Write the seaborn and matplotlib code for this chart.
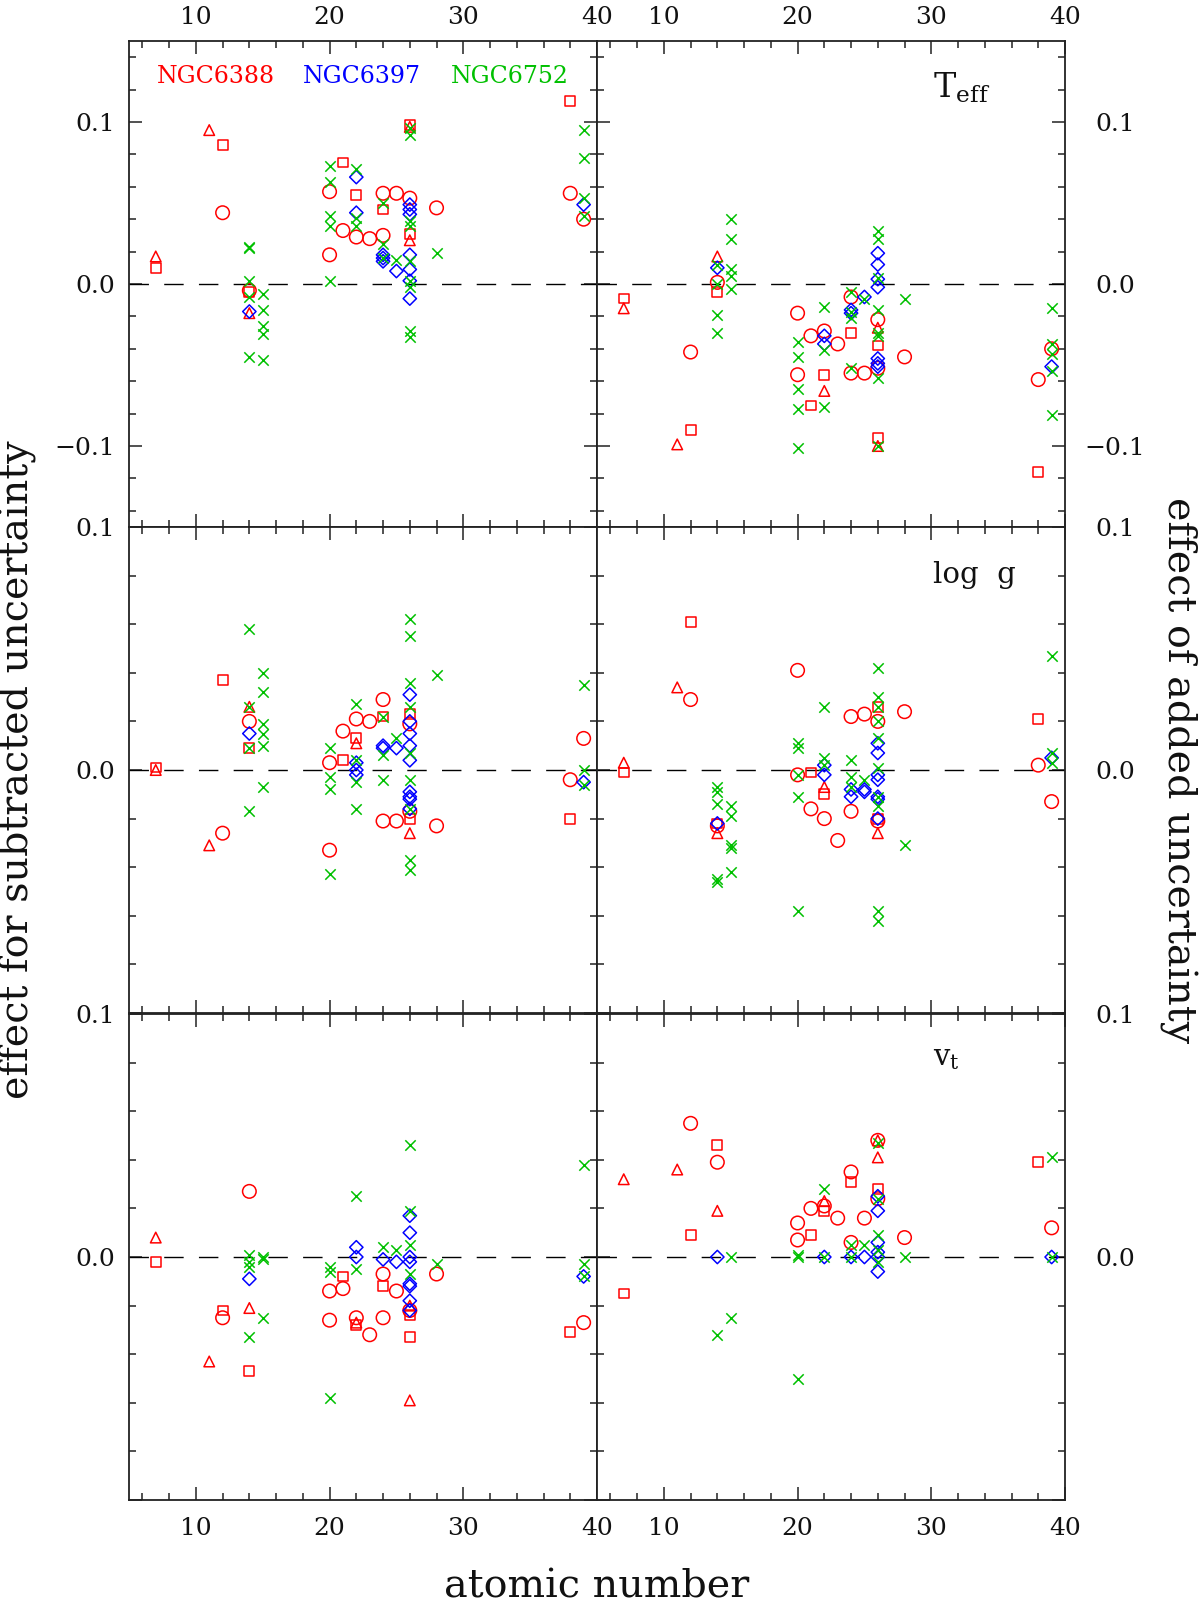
import matplotlib
matplotlib.use("Agg")
import matplotlib.pyplot as plt
from matplotlib.ticker import FixedLocator, MultipleLocator, FuncFormatter
import seaborn as sns
import pandas as pd

# ---------------- data: (atomic number, effect) ----------------
# T_eff, subtracted uncertainty (top-left)
TEFF_SUB_RED_TRI = [(7, 0.017), (11, 0.095), (14, -0.018), (26, 0.027), (26, 0.097)]
TEFF_SUB_RED_SQ = [(7, 0.010), (12, 0.086), (14, -0.005), (21, 0.075), (22, 0.055), (24, 0.046),
                   (26, 0.031), (26, 0.098), (38, 0.113)]
TEFF_SUB_RED_CIRC = [(12, 0.044), (14, -0.004), (20, 0.057), (20, 0.018), (21, 0.033), (22, 0.029),
                     (23, 0.028), (24, 0.030), (24, 0.056), (25, 0.056), (26, 0.053), (28, 0.047),
                     (38, 0.056), (39, 0.040)]
TEFF_SUB_BLUE = [(14, -0.017), (22, 0.066), (22, 0.044), (24, 0.014), (24, 0.016), (24, 0.018),
                 (25, 0.008), (26, 0.043), (26, 0.046), (26, 0.049), (26, 0.018), (26, 0.009),
                 (26, 0.002), (26, -0.009), (39, 0.049)]
TEFF_SUB_GREEN = [(14, 0.022), (14, 0.023), (14, 0.002), (14, -0.008), (14, -0.045), (15, -0.006),
                  (15, -0.016), (15, -0.026), (15, -0.031), (15, -0.047), (20, 0.073), (20, 0.063),
                  (20, 0.042), (20, 0.036), (20, 0.002), (22, 0.071), (22, 0.041), (22, 0.036),
                  (24, 0.050), (24, 0.025), (24, 0.016), (25, 0.015), (26, 0.096), (26, 0.092),
                  (26, 0.039), (26, 0.036), (26, 0.014), (26, 0.002), (26, -0.002), (26, -0.029),
                  (26, -0.033), (28, 0.019), (39, 0.095), (39, 0.078), (39, 0.053), (39, 0.042)]

# T_eff, added uncertainty (top-right)
TEFF_ADD_RED_TRI = [(7, -0.015), (11, -0.099), (14, 0.017), (22, -0.066), (26, -0.027), (26, -0.100)]
TEFF_ADD_RED_SQ = [(7, -0.009), (12, -0.090), (14, -0.005), (21, -0.075), (22, -0.056), (24, -0.030),
                   (26, -0.038), (26, -0.095), (38, -0.116)]
TEFF_ADD_RED_CIRC = [(12, -0.042), (14, 0.001), (20, -0.018), (20, -0.056), (21, -0.032), (22, -0.029),
                     (23, -0.037), (24, -0.008), (24, -0.055), (25, -0.055), (26, -0.022), (26, -0.052),
                     (28, -0.045), (38, -0.059), (39, -0.040)]
TEFF_ADD_BLUE = [(14, 0.010), (22, -0.032), (22, -0.037), (24, -0.016), (24, -0.018), (25, -0.008),
                 (26, 0.019), (26, 0.012), (26, 0.003), (26, -0.002), (26, -0.046), (26, -0.049),
                 (26, -0.051), (39, -0.051)]
TEFF_ADD_GREEN = [(14, 0.012), (14, 0.000), (14, -0.019), (14, -0.030), (15, 0.040), (15, 0.028),
                  (15, 0.009), (15, 0.005), (15, -0.003), (20, -0.036), (20, -0.045), (20, -0.065),
                  (20, -0.077), (20, -0.101), (22, -0.014), (22, -0.041), (22, -0.076), (24, -0.005),
                  (24, -0.017), (24, -0.021), (24, -0.052), (25, -0.009), (26, 0.033), (26, 0.028),
                  (26, 0.004), (26, -0.016), (26, -0.030), (26, -0.032), (26, -0.058), (26, -0.100),
                  (28, -0.009), (39, -0.015), (39, -0.037), (39, -0.043), (39, -0.054), (39, -0.081)]

# log g, subtracted uncertainty (middle-left)
LOGG_SUB_RED_TRI = [(7, 0.000), (11, -0.031), (14, 0.026), (22, 0.011), (26, -0.026)]
LOGG_SUB_RED_SQ = [(7, 0.001), (12, 0.037), (14, 0.009), (21, 0.004), (22, 0.013), (24, 0.022),
                   (26, 0.023), (26, -0.020), (38, -0.020)]
LOGG_SUB_RED_CIRC = [(12, -0.026), (14, 0.020), (20, 0.003), (20, -0.033), (21, 0.016), (22, 0.021),
                     (23, 0.020), (24, 0.029), (24, -0.021), (25, -0.021), (26, 0.019), (26, -0.017),
                     (28, -0.023), (38, -0.004), (39, 0.013)]
LOGG_SUB_BLUE = [(14, 0.015), (22, 0.003), (22, 0.000), (22, -0.002), (24, 0.010), (24, 0.009),
                 (25, 0.009), (26, 0.031), (26, 0.020), (26, 0.015), (26, 0.010), (26, 0.004),
                 (26, -0.009), (26, -0.011), (26, -0.012), (26, -0.016), (39, -0.005)]
LOGG_SUB_GREEN = [(14, 0.058), (14, 0.026), (14, 0.009), (14, -0.017), (15, 0.040), (15, 0.032),
                  (15, 0.019), (15, 0.015), (15, 0.010), (15, -0.007), (20, 0.009), (20, -0.003),
                  (20, -0.008), (20, -0.043), (22, 0.027), (22, 0.004), (22, -0.005), (22, -0.016),
                  (24, 0.022), (24, 0.006), (24, -0.004), (25, 0.013), (26, 0.062), (26, 0.055),
                  (26, 0.036), (26, 0.026), (26, 0.007), (26, -0.004), (26, -0.016), (26, -0.037),
                  (26, -0.041), (28, 0.039), (39, 0.035), (39, 0.000), (39, -0.006)]

# log g, added uncertainty (middle-right)
LOGG_ADD_RED_TRI = [(7, 0.003), (11, 0.034), (14, -0.026), (22, -0.007), (26, -0.026)]
LOGG_ADD_RED_SQ = [(7, -0.001), (12, 0.061), (14, -0.022), (21, -0.001), (22, -0.010), (26, 0.026),
                   (26, -0.020), (38, 0.021)]
LOGG_ADD_RED_CIRC = [(12, 0.029), (14, -0.023), (20, 0.041), (20, -0.002), (21, -0.016), (22, -0.020),
                     (23, -0.029), (24, 0.022), (24, -0.017), (25, 0.023), (26, 0.020), (26, -0.021),
                     (28, 0.024), (38, 0.002), (39, -0.013)]
LOGG_ADD_BLUE = [(14, -0.022), (22, 0.002), (22, -0.002), (24, -0.008), (24, -0.011), (25, -0.008),
                 (25, -0.009), (26, 0.011), (26, 0.007), (26, -0.002), (26, -0.004), (26, -0.011),
                 (26, -0.012), (26, -0.020), (39, 0.005)]
LOGG_ADD_GREEN = [(14, -0.007), (14, -0.009), (14, -0.014), (14, -0.045), (14, -0.046), (15, -0.015),
                  (15, -0.019), (15, -0.031), (15, -0.032), (15, -0.042), (20, 0.011), (20, 0.009),
                  (20, -0.002), (20, -0.011), (20, -0.058), (22, 0.026), (22, 0.005), (22, 0.002),
                  (24, 0.004), (24, -0.003), (24, -0.007), (25, -0.004), (26, 0.042), (26, 0.030),
                  (26, 0.026), (26, 0.020), (26, 0.013), (26, 0.001), (26, -0.011), (26, -0.015),
                  (26, -0.058), (26, -0.062), (28, -0.031), (39, 0.047), (39, 0.007), (39, 0.003)]

# v_t, subtracted uncertainty (bottom-left)
VT_SUB_RED_TRI = [(7, 0.008), (11, -0.043), (14, -0.021), (22, -0.027), (26, -0.020), (26, -0.059)]
VT_SUB_RED_SQ = [(7, -0.002), (12, -0.022), (14, -0.047), (21, -0.008), (22, -0.028), (24, -0.012),
                 (26, -0.024), (26, -0.033), (38, -0.031)]
VT_SUB_RED_CIRC = [(12, -0.025), (14, 0.027), (20, -0.014), (20, -0.026), (21, -0.013), (22, -0.025),
                   (23, -0.032), (24, -0.007), (24, -0.025), (25, -0.014), (26, -0.022), (28, -0.007),
                   (39, -0.027)]
VT_SUB_BLUE = [(14, -0.009), (22, 0.004), (22, 0.000), (24, -0.001), (25, -0.002), (26, 0.017),
               (26, 0.010), (26, 0.000), (26, -0.002), (26, -0.011), (26, -0.012), (26, -0.018),
               (26, -0.022), (39, -0.008)]
VT_SUB_GREEN = [(14, 0.001), (14, -0.002), (14, -0.004), (14, -0.033), (15, 0.000), (15, -0.001),
                (15, -0.025), (20, -0.004), (20, -0.006), (20, -0.058), (22, 0.025), (22, -0.005),
                (24, 0.004), (25, 0.003), (26, 0.046), (26, 0.019), (26, 0.005), (26, -0.007),
                (28, -0.003), (39, 0.038), (39, -0.003), (39, -0.008)]

# v_t, added uncertainty (bottom-right)
VT_ADD_RED_TRI = [(7, 0.032), (11, 0.036), (14, 0.019), (22, 0.023), (26, 0.041), (26, 0.048)]
VT_ADD_RED_SQ = [(7, -0.015), (12, 0.009), (14, 0.046), (21, 0.009), (22, 0.019), (24, 0.031),
                 (26, 0.028), (38, 0.039)]
VT_ADD_RED_CIRC = [(12, 0.055), (14, 0.039), (20, 0.014), (20, 0.007), (21, 0.020), (22, 0.021),
                   (23, 0.016), (24, 0.035), (24, 0.006), (25, 0.016), (26, 0.048), (26, 0.024),
                   (28, 0.008), (39, 0.012)]
VT_ADD_BLUE = [(14, 0.000), (22, 0.000), (24, 0.000), (25, 0.000), (26, 0.025), (26, 0.019),
               (26, 0.006), (26, 0.002), (26, 0.000), (26, -0.006), (39, 0.000)]
VT_ADD_GREEN = [(14, -0.032), (15, 0.000), (15, -0.025), (20, 0.001), (20, 0.000), (20, -0.050),
                (22, 0.028), (22, 0.000), (24, 0.005), (24, 0.000), (25, 0.005), (26, 0.047),
                (26, 0.024), (26, 0.009), (26, 0.003), (26, -0.002), (28, 0.000), (39, 0.041),
                (39, 0.000)]

CLUSTERS = ["NGC6388", "NGC6397", "NGC6752"]
X_MAJOR = [10, 20, 30, 40]
Y_MAJOR = [-0.1, 0.0, 0.1]
PANEL_LABELS = ["T$_{\\rm eff}$", "log  g", "v$_{\\rm t}$"]

# ---------------- style ----------------
sns.set_theme(style="white")
plt.rcParams["font.family"] = ["DejaVu Serif"]
plt.rcParams["mathtext.fontset"] = "dejavuserif"

RED, BLUE, GREEN = "#ff0000", "#0000ff", "#00c000"
STYLES = {  # marker, colour, size (pt^2), hollow
    "red_tri": ("^", RED, 58, True),
    "red_sq": ("s", RED, 50, True),
    "red_circ": ("o", RED, 95, True),
    "blue": ("D", BLUE, 46, True),
    "green": ("x", GREEN, 56, False),
}

fig = plt.figure(figsize=(12, 16.05), dpi=100)
W, H = 468 / 1200, 486 / 1605
LEFTS = [129 / 1200, 597 / 1200]
BOTTOMS = [1 - 527 / 1605, 1 - 1013 / 1605, 1 - 1500 / 1605]

panels = [
    (0, 0, 0.15, {"red_tri": TEFF_SUB_RED_TRI, "red_sq": TEFF_SUB_RED_SQ, "red_circ": TEFF_SUB_RED_CIRC,
                  "blue": TEFF_SUB_BLUE, "green": TEFF_SUB_GREEN}),
    (0, 1, 0.15, {"red_tri": TEFF_ADD_RED_TRI, "red_sq": TEFF_ADD_RED_SQ, "red_circ": TEFF_ADD_RED_CIRC,
                  "blue": TEFF_ADD_BLUE, "green": TEFF_ADD_GREEN}),
    (1, 0, 0.10, {"red_tri": LOGG_SUB_RED_TRI, "red_sq": LOGG_SUB_RED_SQ, "red_circ": LOGG_SUB_RED_CIRC,
                  "blue": LOGG_SUB_BLUE, "green": LOGG_SUB_GREEN}),
    (1, 1, 0.10, {"red_tri": LOGG_ADD_RED_TRI, "red_sq": LOGG_ADD_RED_SQ, "red_circ": LOGG_ADD_RED_CIRC,
                  "blue": LOGG_ADD_BLUE, "green": LOGG_ADD_GREEN}),
    (2, 0, 0.10, {"red_tri": VT_SUB_RED_TRI, "red_sq": VT_SUB_RED_SQ, "red_circ": VT_SUB_RED_CIRC,
                  "blue": VT_SUB_BLUE, "green": VT_SUB_GREEN}),
    (2, 1, 0.10, {"red_tri": VT_ADD_RED_TRI, "red_sq": VT_ADD_RED_SQ, "red_circ": VT_ADD_RED_CIRC,
                  "blue": VT_ADD_BLUE, "green": VT_ADD_GREEN}),
]


def make_fmt(hide_neg):
    def f(v, pos):
        if hide_neg and v < -0.05:
            return ""
        if abs(v) < 1e-9:
            return "0.0"
        return f"{v:.1f}".replace("-", "\u2212")
    return FuncFormatter(f)


for row, col, ylim, series in panels:
    ax = fig.add_axes([LEFTS[col], BOTTOMS[row], W, H])
    ax.axhline(0, color="black", lw=1.0, dashes=(14, 11), zorder=1)
    for key in ["red_tri", "red_sq", "red_circ", "blue", "green"]:
        marker, color, size, hollow = STYLES[key]
        df = pd.DataFrame(series[key], columns=["Z", "effect"])
        if hollow:
            sns.scatterplot(data=df, x="Z", y="effect", ax=ax, marker=marker, s=size,
                            color=color, facecolor="none", edgecolor=color, linewidth=1.1,
                            legend=False, zorder=3, clip_on=False)
        else:
            sns.scatterplot(data=df, x="Z", y="effect", ax=ax, marker=marker, s=size,
                            color=color, linewidth=1.1, legend=False, zorder=4, clip_on=False)
    ax.set_xlim(5, 40)
    ax.set_ylim(-ylim, ylim)
    ax.set_xlabel("")
    ax.set_ylabel("")
    ax.xaxis.set_major_locator(FixedLocator(X_MAJOR))
    ax.xaxis.set_minor_locator(MultipleLocator(2))
    ax.yaxis.set_major_locator(FixedLocator(Y_MAJOR))
    ax.yaxis.set_minor_locator(MultipleLocator(0.02))
    ax.yaxis.set_major_formatter(make_fmt(row > 0))
    for sp in ax.spines.values():
        sp.set_linewidth(1.3)
        sp.set_color("#222222")
    ax.tick_params(which="both", direction="in", top=True, bottom=True, left=True, right=True,
                   color="#222222", width=1.1, labelsize=18, labelcolor="#111111")
    ax.tick_params(which="major", length=9.5)
    ax.tick_params(which="minor", length=5)
    ax.tick_params(axis="x", labeltop=(row == 0), labelbottom=(row == 2),
                   pad=(9 if row == 0 else 12))
    if col == 0:
        ax.tick_params(axis="y", labelleft=True, labelright=False, pad=10)
    else:
        ax.tick_params(axis="y", labelleft=False, labelright=True, pad=36)
        for t in ax.yaxis.get_major_ticks():
            t.label2.set_horizontalalignment("center")
    ax.set_facecolor("white")

    if row == 0 and col == 0:
        for name, c, xpos in zip(CLUSTERS, [RED, BLUE, GREEN], [7.1, 18.0, 29.1]):
            ax.text(xpos, 0.124, name, color=c, fontsize=17, va="baseline", ha="left")
    if col == 1:
        ypos = [0.115, 0.077, 0.079][row]
        ax.text(30.1, ypos, PANEL_LABELS[row], fontsize=[24, 21, 21][row], va="baseline",
                ha="left", color="#111111")

fig.text(0.015, 0.5202, "effect for subtracted uncertainty", rotation=90, fontsize=28.5,
         ha="center", va="center", color="#111111")
fig.text(0.982, 0.5202, "effect of added uncertainty", rotation=270, fontsize=28.5,
         ha="center", va="center", color="#111111")
fig.text(0.4975, 1 - 1598 / 1605, "atomic number", fontsize=28.5, ha="center", va="baseline",
         color="#111111")

fig.savefig("out.png", dpi=100, facecolor="white")
